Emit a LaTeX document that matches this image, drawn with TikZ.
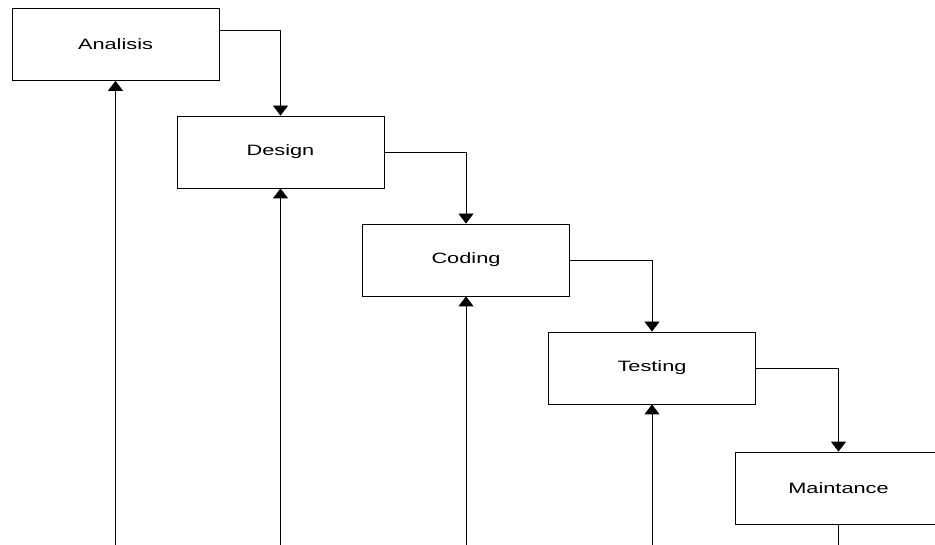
\documentclass[tikz,border=0pt]{standalone}
\usepackage{fontspec}
\newfontfamily\boxfont[FakeStretch=1.45]{Liberation Sans}
\usepackage{tikz}
\usetikzlibrary{arrows.meta,calc}

\tikzset{
  phase/.style={draw, rectangle, minimum width=207pt, minimum height=72pt,
    inner sep=0pt, line width=0.8pt, font=\boxfont\fontsize{15pt}{18pt}\selectfont},
  flow/.style={line width=0.8pt, -{Triangle[width=15pt,length=10pt]}}
}

\begin{document}
\begin{tikzpicture}[x=1pt,y=-1pt]
\useasboundingbox (0,0) rectangle (935,545);
\clip (0,0) rectangle (935,545);
\fill[white] (0,0) rectangle (935,545);

\node[phase] (analisis) at (115.5,44.5) {Analisis};
\node[phase] (design) at (280.5,152) {Design};
\node[phase] (coding) at (466,260) {Coding};
\node[phase] (testing) at (652,368) {Testing};
\node[phase] (maintance) at (838.5,488) {Maintance};

% downward flow
\draw[flow] ([yshift=-22pt]analisis.north east) -| (design.north);
\draw[flow] (design.east) -| (coding.north);
\draw[flow] (coding.east) -| (testing.north);
\draw[flow] (testing.east) -| (maintance.north);

% feedback lines from below
\coordinate (fa) at (115.5,545);
\coordinate (fd) at (280.5,545);
\coordinate (fc) at (466,545);
\coordinate (ft) at (652,545);
\coordinate (fm) at (838.5,545);
\draw[flow] (fa) -- (analisis.south);
\draw[flow] (fd) -- (design.south);
\draw[flow] (fc) -- (coding.south);
\draw[flow] (ft) -- (testing.south);
\draw[line width=0.8pt] (maintance.south) -- (fm);
\end{tikzpicture}
\end{document}
